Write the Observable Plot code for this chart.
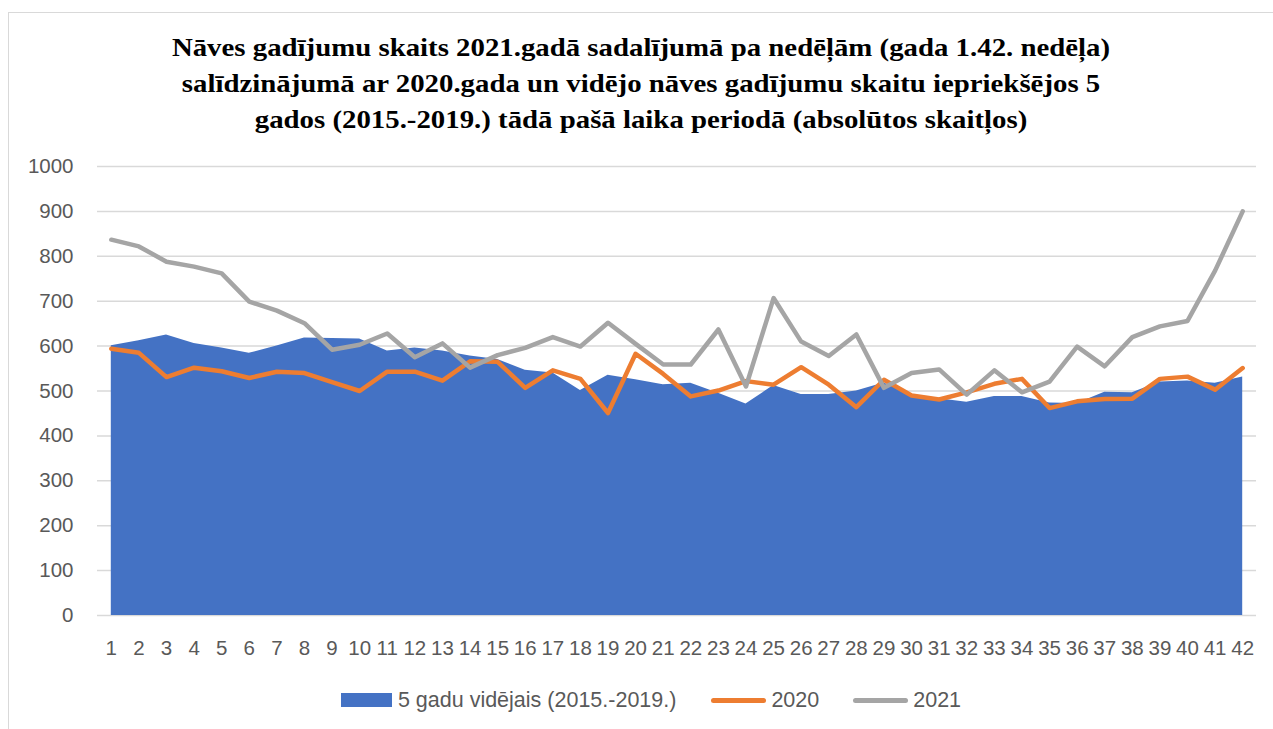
<!DOCTYPE html>
<html>
<head>
<meta charset="utf-8">
<script src="https://cdn.jsdelivr.net/npm/d3@7"></script>
<script src="https://cdn.jsdelivr.net/npm/@observablehq/plot@0.6"></script>
<style>
  body { margin: 0; background: #fff; }
  #wrap { position: relative; width: 1273px; height: 729px; overflow: hidden; background: #fff; font-family: "Liberation Sans", Arial, sans-serif; }
  #border { position: absolute; left: 8px; top: 12px; width: 1300px; height: 760px; border: 1.5px solid #d9d9d9; box-sizing: border-box; }
  #title { position: absolute; left: 0; top: 30px; width: 1282px; text-align: center; font-family: "Liberation Serif", serif; font-weight: bold; font-size: 25.5px; line-height: 36px; color: #000; transform: scaleX(1.13); transform-origin: 641px 0; }
  #chart { position: absolute; left: 0; top: 140px; }
  #legend { position: absolute; left: 0; top: 688px; width: 1302px; height: 24px; display: flex; justify-content: center; align-items: center; font-size: 21.5px; color: #595959; font-family: "Liberation Sans", Arial, sans-serif; }
  .sw-rect { width: 51px; height: 14px; background: #4472C4; margin-right: 6px; }
  .sw-line { width: 55px; height: 5px; border-radius: 3px; margin-right: 5px; }
  .lbl { line-height: 24px; white-space: nowrap; }
</style>
</head>
<body>
<div id="wrap">
  <div id="border"></div>
  <div id="title">Nāves gadījumu skaits 2021.gadā sadalījumā pa nedēļām (gada 1.42. nedēļa)<br>salīdzinājumā ar 2020.gada un vidējo nāves gadījumu skaitu iepriekšējos 5<br>gados (2015.-2019.) tādā pašā laika periodā (absolūtos skaitļos)</div>
  <div id="chart"></div>
  <div id="legend">
    <div class="sw-rect"></div><div class="lbl" style="margin-right:35px">5 gadu vidējais (2015.-2019.)</div>
    <div class="sw-line" style="background:#ED7D31"></div><div class="lbl" style="margin-right:34px">2020</div>
    <div class="sw-line" style="background:#A5A5A5"></div><div class="lbl">2021</div>
  </div>
</div>
<script>
const weeks = [1,2,3,4,5,6,7,8,9,10,11,12,13,14,15,16,17,18,19,20,21,22,23,24,25,26,27,28,29,30,31,32,33,34,35,36,37,38,39,40,41,42];
const avg5 = [601,612,625,606,596,584,600,618,617,616,589,596,589,578,570,546,540,501,535,525,514,517,495,471,512,492,492,500,518,492,483,475,488,488,473,472,497,496,520,522,517,531];
const y2020 = [594,585,531,552,544,529,543,540,520,500,543,543,523,566,565,507,546,527,451,583,538,488,501,522,514,553,514,464,525,490,481,497,516,527,462,477,482,483,527,532,503,551];
const y2021 = [837,822,788,777,762,699,679,651,592,603,628,575,606,552,580,596,620,599,652,605,559,559,637,510,707,610,578,626,507,540,548,492,546,497,521,599,555,620,644,656,768,900];
const yTicks = [0,100,200,300,400,500,600,700,800,900,1000];

const data = weeks.map((w, i) => ({week: w, avg: avg5[i], v2020: y2020[i], v2021: y2021[i]}));

const chart = Plot.plot({
  width: 1273,
  height: 540,
  marginTop: 26,
  marginBottom: 65,
  marginLeft: 97,
  marginRight: 17,
  style: {fontFamily: "'Liberation Sans', Arial, sans-serif", fontSize: "20.5px", color: "#595959", background: "transparent", overflow: "visible"},
  x: {type: "linear", domain: [0.5, 42.5]},
  y: {domain: [0, 1000]},
  marks: [
    Plot.ruleY(yTicks, {stroke: "#d9d9d9", strokeWidth: 1.5}),
    Plot.areaY(data, {x: "week", y: "avg", fill: "#4472C4"}),
    Plot.lineY(data, {x: "week", y: "v2020", stroke: "#ED7D31", strokeWidth: 4.5, strokeLinejoin: "round", strokeLinecap: "round"}),
    Plot.lineY(data, {x: "week", y: "v2021", stroke: "#A5A5A5", strokeWidth: 4.5, strokeLinejoin: "round", strokeLinecap: "round"}),
    Plot.axisY(yTicks, {tickSize: 0, tickPadding: 24, fontSize: 20.5, label: null, tickFormat: d => String(d)}),
    Plot.axisX(weeks, {tickSize: 0, tickPadding: 25, fontSize: 20.5, label: null, tickFormat: d => String(d)})
  ]
});
document.getElementById("chart").appendChild(chart);
</script>
</body>
</html>
